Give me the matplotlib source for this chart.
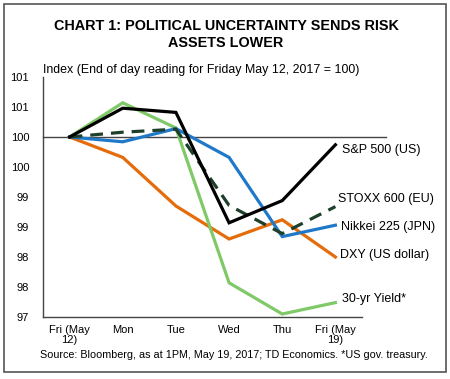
import matplotlib
matplotlib.use("Agg")
import matplotlib.pyplot as plt
from matplotlib.patches import Rectangle

plt.rcParams['font.family'] = ['Liberation Sans', 'DejaVu Sans']

categories = ["Fri (May\n12)", "Mon", "Tue", "Wed", "Thu", "Fri (May\n19)"]
sp500 = [100.0, 100.48, 100.41, 98.57, 98.94, 99.87]
stoxx = [100.0, 100.08, 100.13, 98.86, 98.39, 98.84]
nikkei = [100.0, 99.92, 100.14, 99.66, 98.34, 98.53]
dxy = [100.0, 99.66, 98.85, 98.30, 98.62, 98.0]
yield30 = [100.0, 100.57, 100.15, 97.57, 97.05, 97.24]
yticks = [97, 97.5, 98, 98.5, 99, 99.5, 100, 100.5, 101]
ytick_labels = ["97", "98", "98", "99", "99", "100", "100", "101", "101"]
series_labels = ["S&P 500 (US)", "STOXX 600 (EU)", "Nikkei 225 (JPN)", "DXY (US dollar)", "30-yr Yield*"]

W, H = 450, 379
fig = plt.figure(figsize=(W / 100, H / 100), dpi=100)
fig.patch.set_facecolor('white')
fig.add_artist(Rectangle((4 / W, 1 - 372 / H), 442 / W, 368 / H, transform=fig.transFigure,
                         fill=False, edgecolor='#555555', linewidth=1.2))

ax = fig.add_axes([43 / W, 1 - 317 / H, (362 - 43) / W, 240 / H])
x = list(range(len(categories)))

ax.plot([-0.5, 5.95], [100, 100], color='#444444', lw=1.0, zorder=1, clip_on=False)

ax.plot(x, dxy, color='#E46C0A', lw=2.3, zorder=3, solid_joinstyle='miter')
ax.plot(x, yield30, color='#80C968', lw=2.3, zorder=3, solid_joinstyle='miter')
ax.plot(x, nikkei, color='#1F78C8', lw=2.3, zorder=4, solid_joinstyle='miter')
ax.plot(x, stoxx, color='#1E3F2A', lw=2.3, zorder=4, dashes=(4, 2.5))
ax.plot(x, sp500, color='black', lw=2.3, zorder=5, solid_joinstyle='miter')

ax.set_xlim(-0.5, 5.5)
ax.set_ylim(97, 101)
ax.set_yticks(yticks)
ax.set_yticklabels(ytick_labels)
ax.set_xticks(x)
ax.set_xticklabels(categories, linespacing=0.95)
ax.tick_params(axis='both', length=0, labelsize=8)
ax.tick_params(axis='y', pad=10)
ax.tick_params(axis='x', pad=6)
for s in ['top', 'right']:
    ax.spines[s].set_visible(False)
for s in ['left', 'bottom']:
    ax.spines[s].set_color('#444444')
    ax.spines[s].set_linewidth(1.0)

label_pos = [(342, 150), (338, 199), (341, 227), (340, 255), (342, 299)]
for lab, (px, py) in zip(series_labels, label_pos):
    fig.text(px / W, 1 - py / H, lab, ha='left', va='center', fontsize=9)

fig.text(226 / W, 1 - 26 / H, "CHART 1: POLITICAL UNCERTAINTY SENDS RISK", ha='center', va='center',
         fontsize=10.4, fontweight='bold')
fig.text(226 / W, 1 - 43 / H, "ASSETS LOWER", ha='center', va='center', fontsize=10.4, fontweight='bold')
fig.text(43 / W, 1 - 70 / H, "Index (End of day reading for Friday May 12, 2017 = 100)", ha='left',
         va='center', fontsize=8.95)
fig.text(234 / W, 1 - 355 / H, "Source: Bloomberg, as at 1PM, May 19, 2017; TD Economics. *US gov. treasury.",
         ha='center', va='center', fontsize=7.75)

fig.savefig("out.png", dpi=100, facecolor='white')
